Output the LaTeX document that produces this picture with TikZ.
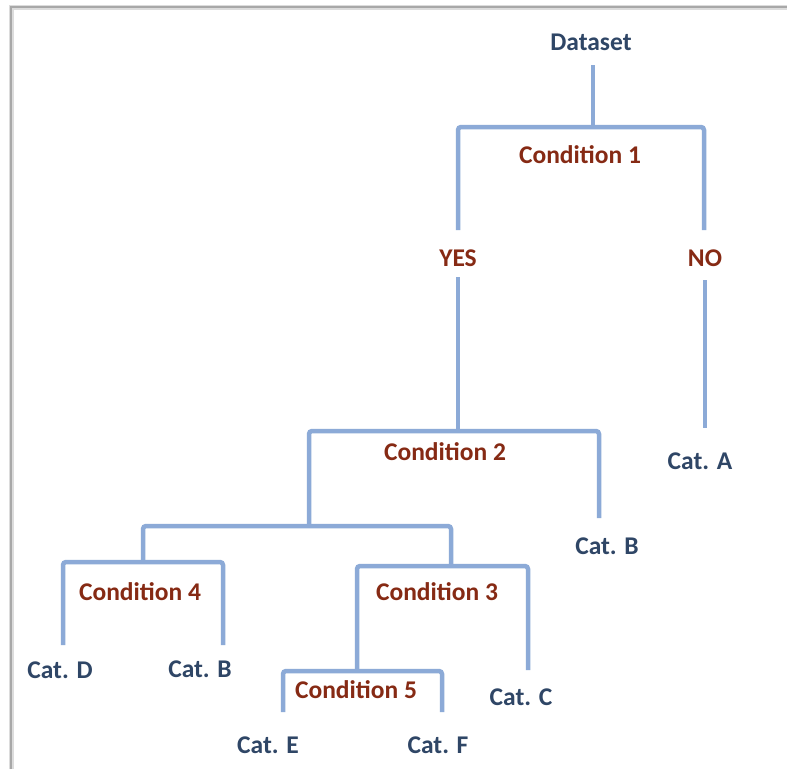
\documentclass[tikz,border=0pt]{standalone}
\usepackage{fontspec}
\setmainfont{Carlito}
\definecolor{edgeblue}{RGB}{140,170,215}
\definecolor{txtblue}{RGB}{47,70,102}
\definecolor{txtred}{RGB}{134,42,20}
\definecolor{frame}{RGB}{168,168,168}
\tikzset{
  edge/.style={draw=edgeblue, line width=4.5pt, rounded corners=3pt},
  leaf/.style={text=txtblue, font=\bfseries\fontsize{25.5}{29}\selectfont, inner sep=0pt},
  cond/.style={text=txtred, font=\bfseries\fontsize{25.5}{29}\selectfont, inner sep=0pt},
}
\begin{document}
\begin{tikzpicture}[x=1pt,y=-1pt]
\useasboundingbox (0,0) rectangle (787,769);
\fill[white] (0,0) rectangle (787,769);
% frame
\draw[frame!40, line width=5pt] (11,769) -- (11,7) -- (787,7);
\draw[frame, line width=2.2pt] (11,769) -- (11,7) -- (787,7);

% text nodes
\node[leaf] (ds) at (591,42) {Dataset};
\node[cond] (c1) at (580,155) {Condition 1};
\node[cond] (yes) at (458,258) {YES};
\node[cond] (no) at (705,258) {NO};
\node[cond] (c2) at (445,452) {Condition 2};
\node[leaf] (ca) at (700,461) {Cat. A};
\node[leaf] (cb1) at (607,546) {Cat. B};
\node[cond] (c4) at (140,592) {Condition 4};
\node[cond] (c3) at (437,592) {Condition 3};
\node[leaf] (cd) at (60,670) {Cat. D};
\node[leaf] (cb2) at (200,669) {Cat. B};
\node[cond] (c5) at (356,690) {Condition 5};
\node[leaf] (cc) at (521,697) {Cat. C};
\node[leaf] (ce) at (268,745) {Cat. E};
\node[leaf] (cf) at (438,745) {Cat. F};

% joint coordinates
\coordinate (dsb) at (593,65);
\coordinate (b1m) at (593,127);
\coordinate (b1l) at (458,127);
\coordinate (b1r) at (704,127);
\coordinate (yest) at (458,230);
\coordinate (not) at (704,230);
\coordinate (yesb) at (458,277);
\coordinate (nob) at (705,280);
\coordinate (b2m) at (458,431);
\coordinate (cat) at (705,428);
\coordinate (b2l) at (309,431);
\coordinate (b2r) at (599,431);
\coordinate (cb1t) at (599,518);
\coordinate (b3m) at (309,526);
\coordinate (b3l) at (143,526);
\coordinate (b3r) at (451,526);
\coordinate (b4m) at (143,562);
\coordinate (b4l) at (63,562);
\coordinate (b4r) at (223,562);
\coordinate (cdt) at (63,645);
\coordinate (cb2t) at (223,645);
\coordinate (b5m) at (451,566);
\coordinate (b5l) at (357,566);
\coordinate (b5r) at (528,566);
\coordinate (cct) at (528,670);
\coordinate (b6m) at (357,671);
\coordinate (b6l) at (283,671);
\coordinate (b6r) at (442,671);
\coordinate (cet) at (283,712);
\coordinate (cft) at (442,712);

% connectors
\draw[edge] (dsb) -- (b1m);
\draw[edge] (yest) -- (b1l) -- (b1r) -- (not);
\draw[edge] (yesb) -- (b2m);
\draw[edge] (nob) -- (cat);
\draw[edge] (b3m) -- (b2l) -- (b2r) -- (cb1t);
\draw[edge] (b4m) -- (b3l) -- (b3r) -- (b5m);
\draw[edge] (cdt) -- (b4l) -- (b4r) -- (cb2t);
\draw[edge] (b6m) -- (b5l) -- (b5r) -- (cct);
\draw[edge] (cet) -- (b6l) -- (b6r) -- (cft);
\end{tikzpicture}
\end{document}
